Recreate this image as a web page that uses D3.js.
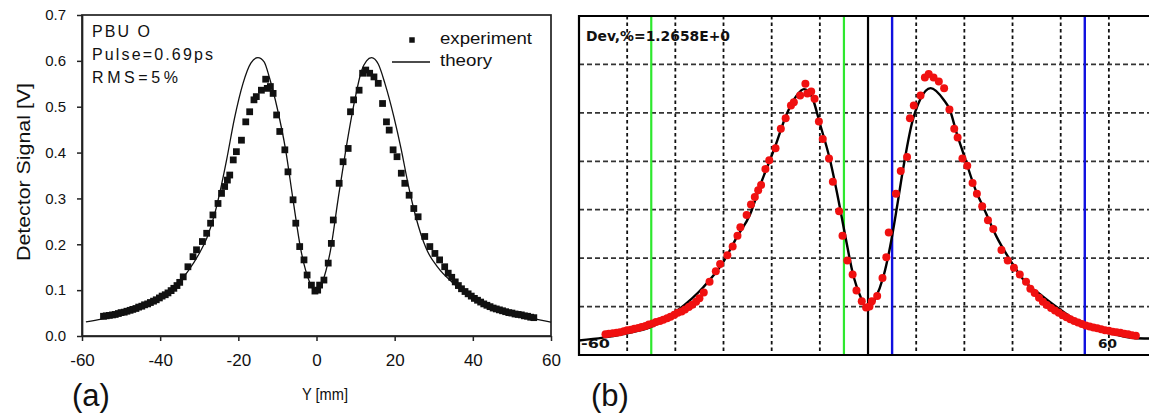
<!DOCTYPE html>
<html><head><meta charset="utf-8">
<script src="https://cdn.jsdelivr.net/npm/d3@7"></script>
<style>html,body{margin:0;padding:0;background:#fff;overflow:hidden}</style>
</head><body>
<svg id="fig" width="1149" height="417"></svg>
<script>
// ---- data ----
const yTicksA = [0, 0.1, 0.2, 0.3, 0.4, 0.5, 0.6, 0.7];
const xTicksA = [-60, -40, -20, 0, 20, 40, 60];

// theory curve, panel (a): [Y mm, signal V]
const theoryA = [
  [-59, 0.031], [-55, 0.037], [-50, 0.047], [-45, 0.062], [-40, 0.083], [-36, 0.110],
  [-33, 0.140], [-30, 0.180], [-28, 0.215], [-26, 0.268], [-24.5, 0.322], [-23, 0.384],
  [-21, 0.474], [-18.8, 0.551], [-16.8, 0.595], [-15, 0.607], [-13.4, 0.598], [-12, 0.562],
  [-10, 0.495], [-7.9, 0.406], [-6, 0.297], [-4, 0.188], [-1.7, 0.116], [0, 0.095],
  [1.3, 0.113], [3.6, 0.188], [5.5, 0.297], [7.5, 0.406], [9.8, 0.515], [11.5, 0.578],
  [12.8, 0.600], [14.1, 0.607], [15.8, 0.593], [17.5, 0.551], [19.8, 0.478], [21.7, 0.406],
  [23.4, 0.333], [25.4, 0.260], [28.1, 0.190], [31, 0.150], [35, 0.115], [40, 0.082],
  [45, 0.062], [50, 0.049], [55, 0.039], [60, 0.030]
];

// measured points (both panels): [Y mm, signal V]
const experiment = [
  [-54.5, 0.043], [-53.8, 0.044], [-53, 0.045], [-52.2, 0.046], [-51.5, 0.047], [-50.7, 0.049],
  [-50, 0.051], [-49.2, 0.052], [-48.5, 0.054], [-47.7, 0.056], [-47, 0.058], [-46.2, 0.060],
  [-45.5, 0.063], [-44.7, 0.065], [-44, 0.068], [-43.2, 0.070], [-42.5, 0.073], [-41.7, 0.076],
  [-41, 0.079], [-40.2, 0.083], [-39.5, 0.087], [-38.7, 0.090], [-38, 0.094], [-37.2, 0.099],
  [-36.5, 0.104], [-35.7, 0.110], [-35, 0.117], [-34.1, 0.129], [-32.9, 0.151], [-31.6, 0.173],
  [-30.7, 0.188], [-29.2, 0.206], [-28.1, 0.224], [-27.1, 0.246], [-26.5, 0.264], [-25.2, 0.289],
  [-24.3, 0.311], [-23.5, 0.326], [-22.8, 0.340], [-22.2, 0.351], [-21.3, 0.384], [-20.5, 0.402],
  [-19.2, 0.427], [-18.1, 0.467], [-17.1, 0.489], [-16.0, 0.515], [-15.4, 0.522], [-14.1, 0.536],
  [-13.0, 0.560], [-12.6, 0.540], [-11.8, 0.544], [-11.1, 0.529], [-10.2, 0.482], [-9.4, 0.446],
  [-8.1, 0.406], [-7.3, 0.358], [-6.0, 0.297], [-5.3, 0.246], [-4.3, 0.195], [-3.2, 0.166],
  [-2.4, 0.133], [-1.3, 0.111], [-0.4, 0.098], [0.3, 0.100], [0.8, 0.111], [1.9, 0.122],
  [3.0, 0.159], [3.8, 0.202], [4.3, 0.253], [5.8, 0.333], [6.8, 0.380], [8.1, 0.409],
  [8.7, 0.489], [9.5, 0.515], [10.9, 0.536], [11.8, 0.573], [12.6, 0.580], [13.6, 0.573],
  [14.7, 0.565], [15.8, 0.551], [16.9, 0.507], [17.9, 0.467], [18.6, 0.449], [19.6, 0.406],
  [20.6, 0.391], [21.7, 0.355], [22.6, 0.333], [23.7, 0.307], [24.9, 0.278], [26.0, 0.260],
  [27.7, 0.217], [29.0, 0.195], [30.3, 0.180], [31.5, 0.166], [32.8, 0.151], [33.7, 0.137],
  [34.6, 0.128], [35.5, 0.118], [36.3, 0.110], [37.1, 0.103], [38, 0.097], [38.8, 0.092],
  [39.6, 0.087], [40.4, 0.082], [41.2, 0.078], [42, 0.074], [42.8, 0.070], [43.6, 0.067],
  [44.4, 0.064], [45.2, 0.061], [46, 0.059], [46.8, 0.057], [47.6, 0.055], [48.4, 0.053],
  [49.2, 0.051], [50, 0.050], [50.8, 0.048], [51.6, 0.047], [52.4, 0.046], [53.2, 0.044],
  [54, 0.043], [54.8, 0.041], [55.6, 0.040]
];

// fitted curve, panel (b): [Y mm, signal V]
const fitB = [
  [-60, 0.030], [-55, 0.036], [-50, 0.045], [-45.3, 0.057], [-39.7, 0.091], [-34.2, 0.140],
  [-30, 0.193], [-27.2, 0.244], [-24.5, 0.290], [-22.4, 0.350], [-19.3, 0.430], [-16.9, 0.497],
  [-14.8, 0.536], [-13.3, 0.549], [-11.6, 0.532], [-10, 0.478], [-7.9, 0.403], [-6.1, 0.318],
  [-4.8, 0.250], [-3, 0.162], [-1.3, 0.114], [0, 0.093], [1.4, 0.114], [3.2, 0.162],
  [4.9, 0.240], [6.0, 0.305], [7.3, 0.385], [9.1, 0.478], [10.8, 0.527], [13, 0.551],
  [15.7, 0.527], [17, 0.506], [18.4, 0.458], [19.8, 0.416], [22.6, 0.334], [23.9, 0.306],
  [26.7, 0.244], [29.5, 0.196], [32.3, 0.155], [36.4, 0.120], [40.6, 0.089], [44.7, 0.062],
  [50.2, 0.045], [55.1, 0.035], [58.4, 0.034]
];

const gridXB = [-50, -40, -30, -20, -10, 10, 20, 30, 40, 50];
const gridYB = [0.1, 0.2, 0.3, 0.4, 0.5, 0.6];
const greenCursors = [-45, -5];
const blueCursors = [5, 45];
const centerMarker = [0];

const infoLines = ["PBU O", "Pulse=0.69ps", "RMS=5%"];
const legendLabels = ["experiment", "theory"];
const devText = "Dev,%=1.2658E+0";
const rangeLabelsB = ["-60", "60"];
const panelTags = ["(a)", "(b)"];
const axisTitlesA = ["Y [mm]", "Detector Signal [V]"];

// ---- drawing ----
const svg = d3.select("#fig");
const sans = "'Liberation Sans', Arial, sans-serif";

/* ===== panel (a) ===== */
const xA = d3.scaleLinear().domain([-60, 60]).range([82, 551]);
const yA = d3.scaleLinear().domain([0, 0.7]).range([336, 15]);
const gA = svg.append("g");

gA.append("rect")
  .attr("x", xA(-60)).attr("y", yA(0.7))
  .attr("width", xA(60) - xA(-60)).attr("height", yA(0) - yA(0.7))
  .attr("fill", "none").attr("stroke", "#222").attr("stroke-width", 1.7);

const axL = gA.append("g").attr("transform", `translate(${xA(-60)},0)`)
  .call(d3.axisLeft(yA).tickValues(yTicksA).tickFormat(d3.format(".1f"))
    .tickSizeInner(5).tickSizeOuter(0).tickPadding(11));
const axB = gA.append("g").attr("transform", `translate(0,${yA(0)})`)
  .call(d3.axisBottom(xA).tickValues(xTicksA).tickFormat(d3.format("d"))
    .tickSizeInner(5).tickSizeOuter(0).tickPadding(13));
[axL, axB].forEach(a => {
  a.select(".domain").attr("stroke", "#222").attr("stroke-width", 1.7);
  a.selectAll(".tick line").attr("stroke", "#222").attr("stroke-width", 1.5);
  a.selectAll(".tick text").attr("fill", "#111").attr("font-family", sans);
});
axL.selectAll(".tick text").attr("font-size", 15);
axB.selectAll(".tick text").attr("font-size", 17).text(d => d < 0 ? "-" + Math.abs(d) : d);

// axis titles
gA.append("text").text(axisTitlesA[0])
  .attr("x", 325).attr("y", 400).attr("text-anchor", "middle")
  .attr("font-family", sans).attr("font-size", 17).attr("fill", "#111")
  .attr("textLength", 46).attr("lengthAdjust", "spacingAndGlyphs");
gA.append("text").text(axisTitlesA[1])
  .attr("transform", "translate(30,172) rotate(-90)").attr("text-anchor", "middle")
  .attr("font-family", sans).attr("font-size", 18).attr("fill", "#111")
  .attr("textLength", 178).attr("lengthAdjust", "spacingAndGlyphs");

// annotation block
const infoWidths = [58, 121, 86];
gA.selectAll("text.info").data(infoLines).join("text").attr("class", "info")
  .text(d => d).attr("x", 92).attr("y", (d, i) => 36.5 + i * 23)
  .attr("font-family", sans).attr("font-size", 16).attr("fill", "#111")
  .attr("textLength", (d, i) => infoWidths[i]).attr("lengthAdjust", "spacing");

// theory line
const lineA = d3.line().x(d => xA(d[0])).y(d => yA(d[1])).curve(d3.curveMonotoneX);
gA.append("path").datum(theoryA).attr("d", lineA)
  .attr("fill", "none").attr("stroke", "#111").attr("stroke-width", 1.3);

// experiment markers
const sq = d3.symbol().type(d3.symbolSquare).size(46);
gA.selectAll("path.exp").data(experiment).join("path").attr("class", "exp")
  .attr("d", sq).attr("transform", d => `translate(${xA(d[0])},${yA(d[1])})`)
  .attr("fill", "#111");

// legend
gA.append("path").attr("d", d3.symbol().type(d3.symbolSquare).size(30))
  .attr("transform", "translate(412,40)").attr("fill", "#111");
gA.append("line").attr("x1", 392).attr("x2", 430).attr("y1", 62).attr("y2", 62)
  .attr("stroke", "#111").attr("stroke-width", 1.3);
const legW = [92, 52];
gA.selectAll("text.leg").data(legendLabels).join("text").attr("class", "leg")
  .text(d => d).attr("x", 440).attr("y", (d, i) => 44 + i * 22)
  .attr("font-family", sans).attr("font-size", 16).attr("fill", "#111")
  .attr("textLength", (d, i) => legW[i]).attr("lengthAdjust", "spacingAndGlyphs");

gA.append("text").text(panelTags[0]).attr("x", 72).attr("y", 406)
  .attr("font-family", sans).attr("font-size", 31).attr("fill", "#111");

/* ===== panel (b) ===== */
const xB = d3.scaleLinear().domain([-60, 58.33]).range([579, 1149]);
const yB = d3.scaleLinear().domain([0, 0.7]).range([355, 16]);
const gB = svg.append("g");
gB.append("clipPath").attr("id", "clipB").append("rect")
  .attr("x", 579).attr("y", 16).attr("width", 570).attr("height", 339);
const inner = gB.append("g").attr("clip-path", "url(#clipB)");

inner.selectAll("line.gx").data(gridXB).join("line").attr("class", "gx")
  .attr("x1", d => xB(d)).attr("x2", d => xB(d)).attr("y1", yB(0.7)).attr("y2", yB(0))
  .attr("stroke", "#111").attr("stroke-width", 1.8).attr("stroke-dasharray", "3.5,3");
inner.selectAll("line.gy").data(gridYB).join("line").attr("class", "gy")
  .attr("x1", 579).attr("x2", 1149).attr("y1", d => yB(d)).attr("y2", d => yB(d))
  .attr("stroke", "#333").attr("stroke-width", 1.8).attr("stroke-dasharray", "5,3");

inner.selectAll("line.cg").data(greenCursors).join("line").attr("class", "cg")
  .attr("x1", d => xB(d)).attr("x2", d => xB(d)).attr("y1", yB(0.7)).attr("y2", yB(0))
  .attr("stroke", "#2ee82e").attr("stroke-width", 2.2);
inner.selectAll("line.cb").data(blueCursors).join("line").attr("class", "cb")
  .attr("x1", d => xB(d)).attr("x2", d => xB(d)).attr("y1", yB(0.7)).attr("y2", yB(0))
  .attr("stroke", "#1010e0").attr("stroke-width", 2.4);
inner.selectAll("line.ck").data(centerMarker).join("line").attr("class", "ck")
  .attr("x1", d => xB(d)).attr("x2", d => xB(d)).attr("y1", yB(0.7)).attr("y2", yB(0))
  .attr("stroke", "#000").attr("stroke-width", 2.2);

// range labels
inner.append("text").text(rangeLabelsB[0]).attr("x", 581).attr("y", 348)
  .attr("font-family", "'DejaVu Sans', sans-serif").attr("font-weight", "bold")
  .attr("font-size", 12).attr("fill", "#111")
  .attr("textLength", 29).attr("lengthAdjust", "spacingAndGlyphs");
inner.append("text").text(rangeLabelsB[1]).attr("x", 1098).attr("y", 348)
  .attr("font-family", "'DejaVu Sans', sans-serif").attr("font-weight", "bold")
  .attr("font-size", 12).attr("fill", "#111")
  .attr("textLength", 19).attr("lengthAdjust", "spacingAndGlyphs");

const lineB = d3.line().x(d => xB(d[0])).y(d => yB(d[1])).curve(d3.curveMonotoneX);
inner.append("path").datum(fitB).attr("d", lineB)
  .attr("fill", "none").attr("stroke", "#000").attr("stroke-width", 2.4);

inner.selectAll("circle.pt").data(experiment).join("circle").attr("class", "pt")
  .attr("cx", d => xB(d[0])).attr("cy", d => yB(d[1])).attr("r", 4)
  .attr("fill", "#f01010");

inner.append("text").text(devText).attr("x", 586).attr("y", 41)
  .attr("font-family", "'DejaVu Sans', sans-serif").attr("font-weight", "bold")
  .attr("font-size", 14).attr("fill", "#111")
  .attr("textLength", 144).attr("lengthAdjust", "spacingAndGlyphs");

// frame (open on the right side)
gB.append("path")
  .attr("d", `M1149,${yB(0.7)}H579V${yB(0)}H1149`)
  .attr("fill", "none").attr("stroke", "#000").attr("stroke-width", 2.2);

gB.append("text").text(panelTags[1]).attr("x", 591).attr("y", 406)
  .attr("font-family", sans).attr("font-size", 31).attr("fill", "#111");
</script>
</body></html>
